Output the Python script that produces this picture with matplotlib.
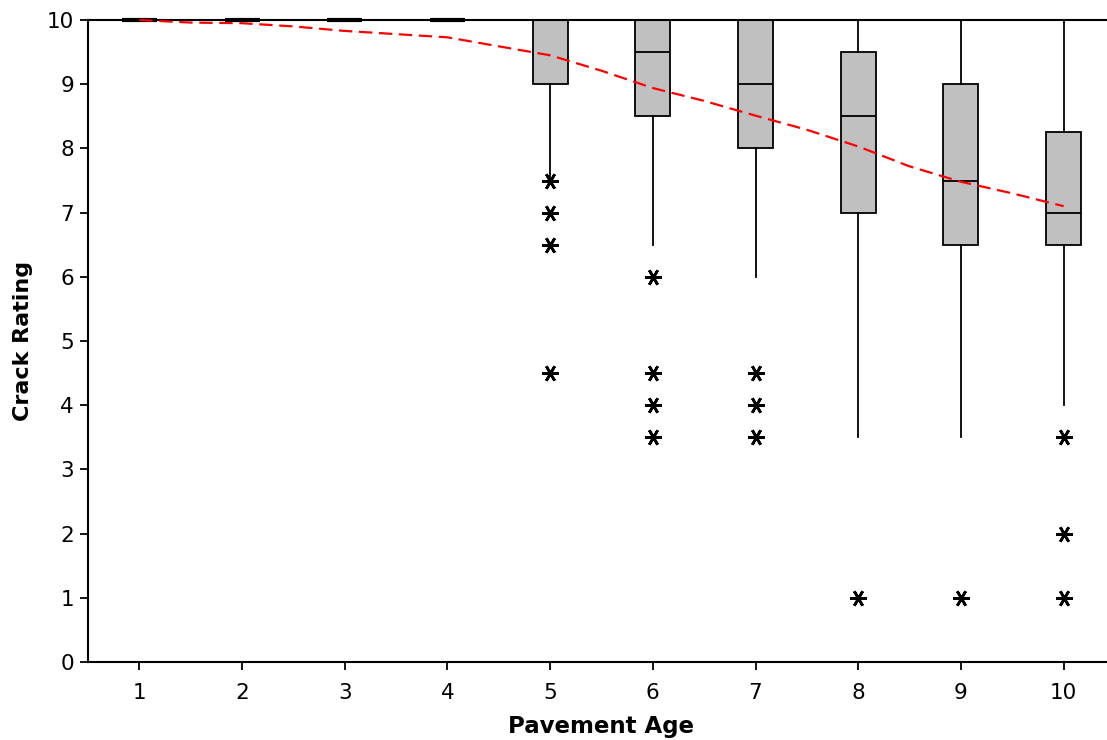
import matplotlib
matplotlib.use("Agg")
import matplotlib.pyplot as plt

plt.rcParams['font.family'] = ['DejaVu Sans']

ages = [1, 2, 3, 4, 5, 6, 7, 8, 9, 10]
q1 = [10, 10, 10, 10, 9.0, 8.5, 8.0, 7.0, 6.5, 6.5]
med = [10, 10, 10, 10, 10.0, 9.5, 9.0, 8.5, 7.5, 7.0]
q3 = [10, 10, 10, 10, 10.0, 10.0, 10.0, 9.5, 9.0, 8.25]
whisk_lo = [10, 10, 10, 10, 7.55, 6.5, 6.0, 3.5, 3.5, 4.0]
whisk_hi = [10, 10, 10, 10, 10.0, 10.0, 10.0, 10.0, 10.0, 10.0]
outliers = [[], [], [], [],
            [7.5, 7.0, 6.5, 4.5],
            [6.0, 4.5, 4.0, 3.5],
            [4.5, 4.0, 3.5],
            [1.0],
            [1.0],
            [3.5, 2.0, 1.0]]

trend_x = [1, 1.5, 2, 2.5, 3, 3.5, 4, 4.5, 5, 5.5, 6, 6.5, 7, 7.5, 8, 8.5, 9, 9.5, 10]
trend_y = [10.0, 9.96, 9.95, 9.90, 9.83, 9.78, 9.73, 9.59, 9.45, 9.21, 8.94, 8.74, 8.51, 8.29, 8.03, 7.72, 7.48, 7.30, 7.10]

fig = plt.figure(figsize=(11.07, 7.40), dpi=100)
ax = fig.add_axes([88/1107, 78/740, 1027/1107, 642/740])

stats = []
for i, a in enumerate(ages):
    stats.append(dict(med=med[i], q1=q1[i], q3=q3[i], whislo=whisk_lo[i],
                      whishi=whisk_hi[i], fliers=outliers[i]))

ax.bxp(stats, positions=ages, widths=0.34, patch_artist=True, showcaps=False,
       boxprops=dict(facecolor='#c0c0c0', edgecolor='black', linewidth=1.3),
       medianprops=dict(color='black', linewidth=1.3),
       whiskerprops=dict(color='black', linewidth=1.3),
       flierprops=dict(marker=(6, 2, 90), markersize=12, markeredgecolor='black',
                       markeredgewidth=1.9, linestyle='none'))

for i in range(4):
    ax.plot([ages[i] - 0.17, ages[i] + 0.17], [10, 10], color='black', lw=3,
            solid_capstyle='butt', clip_on=False, zorder=3)

ax.plot(trend_x, trend_y, color='red', linestyle=(0, (6, 3)), lw=1.6, zorder=4,
        clip_on=False)

ax.set_xlim(0.5, 10.5)
ax.set_ylim(0, 10)
ax.set_xticks(ages)
ax.set_xticklabels([str(a) for a in ages])
ax.set_yticks(range(0, 11))
ax.tick_params(direction='out', length=6, width=1.3, labelsize=15.5, pad=4)
ax.tick_params(axis='x', pad=9)
for s in ['left', 'bottom', 'top']:
    ax.spines[s].set_linewidth(1.5)
ax.spines['right'].set_visible(False)

ax.set_xlabel('Pavement Age', fontsize=16.5, fontweight='bold', labelpad=9)
ax.set_ylabel('Crack Rating', fontsize=16, fontweight='bold', labelpad=10)

fig.savefig('out.png', dpi=100)
